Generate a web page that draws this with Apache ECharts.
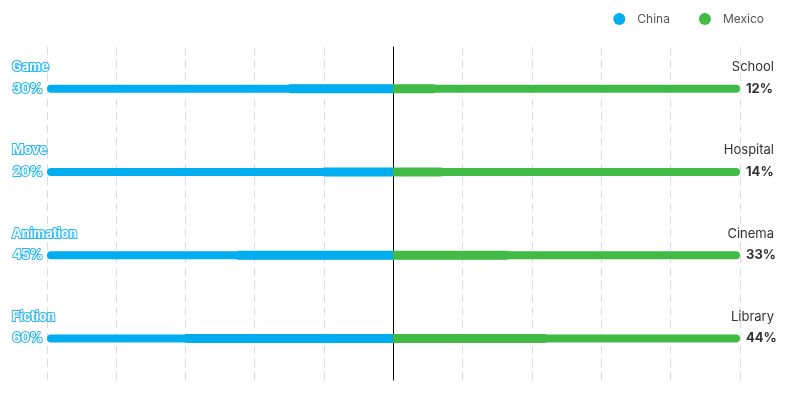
<!DOCTYPE html>
<html>
<head>
<meta charset="utf-8">
<script src="https://cdn.jsdelivr.net/npm/echarts@6/dist/echarts.min.js"></script>
<style>html,body{margin:0;padding:0;background:#fff}#c{width:787px;height:401px}</style>
</head>
<body>
<div id="c"></div>
<script>
const leftCategories = ['Game', 'Move', 'Animation', 'Fiction'];
const rightCategories = ['School', 'Hospital', 'Cinema', 'Library'];
const chinaValues = [30, 20, 45, 60];
const mexicoValues = [12, 14, 33, 44];
const fullValues = [100, 100, 100, 100];
const xTicks = [0, 20, 40, 60, 80, 100];

const BLUE = '#00adef';
const GREEN = '#42bb46';
const FONT = 'Inter';

const chart = echarts.init(document.getElementById('c'));
const splitLine = { show: true, lineStyle: { color: '#d9dcef', type: [8, 5], width: 1 } };
const xBase = {
  type: 'value', min: xTicks[0], max: xTicks[xTicks.length - 1], interval: 20,
  axisLine: { show: false }, axisTick: { show: false }, axisLabel: { show: false },
  splitLine: splitLine
};
const hiddenY = (gi, data) => ({
  gridIndex: gi, type: 'category', data: data, inverse: true, show: false
});
chart.setOption({
  animation: false,
  legend: {
    data: ['China', 'Mexico'], right: 18, top: 8, icon: 'circle',
    itemWidth: 26, itemHeight: 12, itemGap: 29,
    textStyle: { color: '#555', fontSize: 12, fontFamily: FONT }
  },
  grid: [
    { left: 47, right: 394, top: 47, bottom: 21 },
    { left: 393, right: 47, top: 47, bottom: 21 }
  ],
  xAxis: [
    Object.assign({ gridIndex: 0, inverse: true }, xBase),
    Object.assign({ gridIndex: 1 }, xBase)
  ],
  yAxis: [
    {
      gridIndex: 0, type: 'category', data: leftCategories, inverse: true, position: 'left',
      axisLine: { show: false }, axisTick: { show: false },
      axisLabel: {
        formatter: v => '{n|' + v + '}',
        align: 'left', margin: 35, verticalAlign: 'bottom',
        rich: {
          n: {
            padding: [0, 0, 15, 0], align: 'left', verticalAlign: 'bottom',
            color: '#fff', fontSize: 13, fontWeight: 'bold', fontFamily: FONT,
            textBorderColor: '#2ab8f0', textBorderWidth: 2
          }
        }
      }
    },
    {
      gridIndex: 1, type: 'category', data: rightCategories, inverse: true, position: 'left',
      axisLine: { show: true, lineStyle: { color: '#000', width: 1 } },
      axisTick: { show: false }, axisLabel: { show: false }
    },
    {
      gridIndex: 1, type: 'category', data: rightCategories, inverse: true, position: 'right',
      axisLine: { show: false }, axisTick: { show: false },
      axisLabel: {
        formatter: v => '{n|' + v + '}',
        align: 'right', margin: 34, verticalAlign: 'bottom',
        rich: {
          n: {
            padding: [0, 0, 15, 0], align: 'right', verticalAlign: 'bottom',
            color: '#333', fontSize: 13, fontFamily: FONT
          }
        }
      }
    },
    hiddenY(0, leftCategories),
    hiddenY(1, rightCategories)
  ],
  series: [
    {
      type: 'bar', name: 'chinaBg', xAxisIndex: 0, yAxisIndex: 3, data: fullValues,
      barWidth: 8, itemStyle: { color: BLUE, borderRadius: 4 },
      silent: true,
      label: {
        show: true, position: 'left', distance: 4,
        formatter: p => chinaValues[p.dataIndex] + '%',
        color: '#fff', fontSize: 13, fontWeight: 'bold', fontFamily: FONT,
        textBorderColor: '#2ab8f0', textBorderWidth: 2
      }
    },
    {
      type: 'bar', name: 'China', xAxisIndex: 0, yAxisIndex: 0, data: chinaValues,
      barWidth: 9, itemStyle: { color: BLUE }
    },
    {
      type: 'bar', name: 'mexicoBg', xAxisIndex: 1, yAxisIndex: 4, data: fullValues,
      barWidth: 8, itemStyle: { color: GREEN, borderRadius: 4 },
      silent: true,
      label: {
        show: true, position: 'right', distance: 6,
        formatter: p => mexicoValues[p.dataIndex] + '%',
        color: '#333', fontSize: 13, fontWeight: 'bold', fontFamily: FONT
      }
    },
    {
      type: 'bar', name: 'Mexico', xAxisIndex: 1, yAxisIndex: 1, data: mexicoValues,
      barWidth: 9, itemStyle: { color: GREEN }
    }
  ]
});
</script>
</body>
</html>
